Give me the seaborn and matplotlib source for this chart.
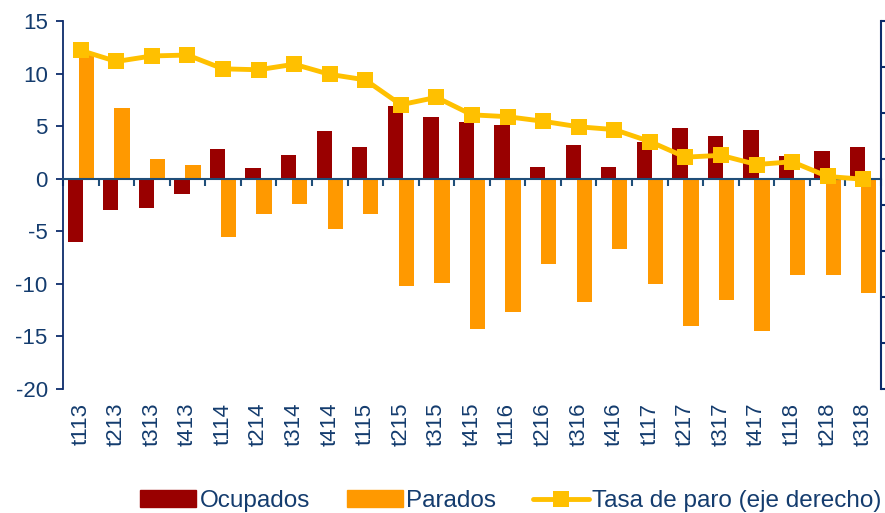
#Imports
import numpy as np
import pandas as pd
import seaborn as sns
import matplotlib.pyplot as plt
from matplotlib.patches import Patch
from matplotlib.lines import Line2D
from matplotlib.ticker import FixedLocator

#The data
periodos = ['t113', 't213', 't313', 't413', 't114', 't214', 't314', 't414',
            't115', 't215', 't315', 't415', 't116', 't216', 't316', 't416',
            't117', 't217', 't317', 't417', 't118', 't218', 't318']
ocupados = [-6.0, -3.0, -2.8, -1.5, 2.8, 1.0, 2.3, 4.5, 3.0, 6.9, 5.9, 5.4,
            5.1, 1.1, 3.2, 1.1, 3.5, 4.8, 4.1, 4.6, 2.2, 2.6, 3.0]
parados = [11.8, 6.7, 1.9, 1.3, -5.5, -3.4, -2.4, -4.8, -3.4, -10.2, -9.9, -14.3,
           -12.7, -8.1, -11.7, -6.7, -10.0, -14.0, -11.5, -14.5, -9.2, -9.2, -10.9]
tasa_paro = [36.8, 35.6, 36.2, 36.3, 34.8, 34.7, 35.3, 34.2, 33.6, 30.9, 31.7, 29.8,
             29.6, 29.1, 28.5, 28.2, 26.9, 25.2, 25.4, 24.4, 24.7, 23.1, 22.8]

#Colours
rojo = '#990000'
naranja = '#FF9900'
amarillo = '#FFC000'
azul = '#143C6E'
azul_eje = '#0D2C6B'

#Long form table for seaborn
df = pd.DataFrame({'periodo': periodos * 2,
                   'valor': ocupados + parados,
                   'serie': ['Ocupados'] * len(periodos) + ['Parados'] * len(periodos)})

sns.set_style('white')
plt.rcParams['font.family'] = ['Liberation Sans', 'DejaVu Sans']
plt.rcParams['axes.unicode_minus'] = False

fig = plt.figure(figsize=(8.85, 5.13), dpi=100)
ax = fig.add_axes([63 / 885, 1 - 389 / 513, 818 / 885, 368 / 513])

sns.barplot(data=df, x='periodo', y='valor', hue='serie', order=periodos,
            palette=[rojo, naranja], width=0.62, dodge=True, legend=False,
            saturation=1, ax=ax)

#bars in the original are wider and overlap a bit
for p in ax.patches:
    cx = p.get_x() + p.get_width() / 2
    p.set_width(0.43)
    p.set_x(cx - 0.215)
    p.set_linewidth(0)

ax.set_xlim(-0.5, len(periodos) - 0.5)
ax.set_ylim(-20, 15)
ax.set_yticks([15, 10, 5, 0, -5, -10, -15, -20])
ax.set_xlabel('')
ax.set_ylabel('')

#zero line with ticks between categories
ax.spines['bottom'].set_position(('data', 0))
ax.spines['bottom'].set_color('#1F4E79')
ax.spines['bottom'].set_linewidth(1.5)
ax.spines['top'].set_visible(False)
ax.spines['right'].set_visible(False)
ax.spines['left'].set_color(azul_eje)
ax.spines['left'].set_linewidth(1.3)
ax.xaxis.set_minor_locator(FixedLocator(np.arange(-0.5, len(periodos), 1)))
ax.tick_params(axis='x', which='major', length=0, labelbottom=False)
ax.tick_params(axis='x', which='minor', bottom=True, length=5, width=1.5,
               color='#1F4E79', direction='out')
ax.tick_params(axis='y', left=True, length=5, width=1.3, color=azul_eje,
               labelsize=16, labelcolor=azul, pad=6)

#period labels at the bottom of the plot
sec = ax.secondary_xaxis('bottom')
sec.set_xticks(range(len(periodos)), labels=periodos)
sec.tick_params(length=0, labelsize=16, labelcolor=azul, rotation=90, pad=10)
sec.spines['bottom'].set_visible(False)

#right axis: unemployment rate
ax2 = ax.twinx()
sns.lineplot(x=np.arange(len(periodos)), y=tasa_paro, color=amarillo, linewidth=3.5,
             marker='s', markersize=12, markeredgewidth=0, ax=ax2)
ax2.set_ylim(0, 40)
ax2.set_yticks(np.arange(0, 41, 5))
ax2.tick_params(axis='y', right=True, length=5, width=1.5, color=azul_eje, labelright=False)
for s in ['top', 'left', 'bottom']:
    ax2.spines[s].set_visible(False)
ax2.spines['right'].set_color(azul_eje)
ax2.spines['right'].set_linewidth(1.5)

#Legend
handles = [Patch(color=rojo, label='Ocupados'),
           Patch(color=naranja, label='Parados'),
           Line2D([], [], color=amarillo, linewidth=3.5, marker='s', markersize=11,
                  markeredgewidth=0, label='Tasa de paro (eje derecho)')]
fig.legend(handles=handles, loc='center', bbox_to_anchor=(511 / 885, 1 - 501 / 513),
           ncol=3, frameon=False, fontsize=17.5, labelcolor=azul,
           handlelength=2.3, handleheight=0.7, handletextpad=0.15, columnspacing=1.5)

plt.savefig('out.png', dpi=100)
